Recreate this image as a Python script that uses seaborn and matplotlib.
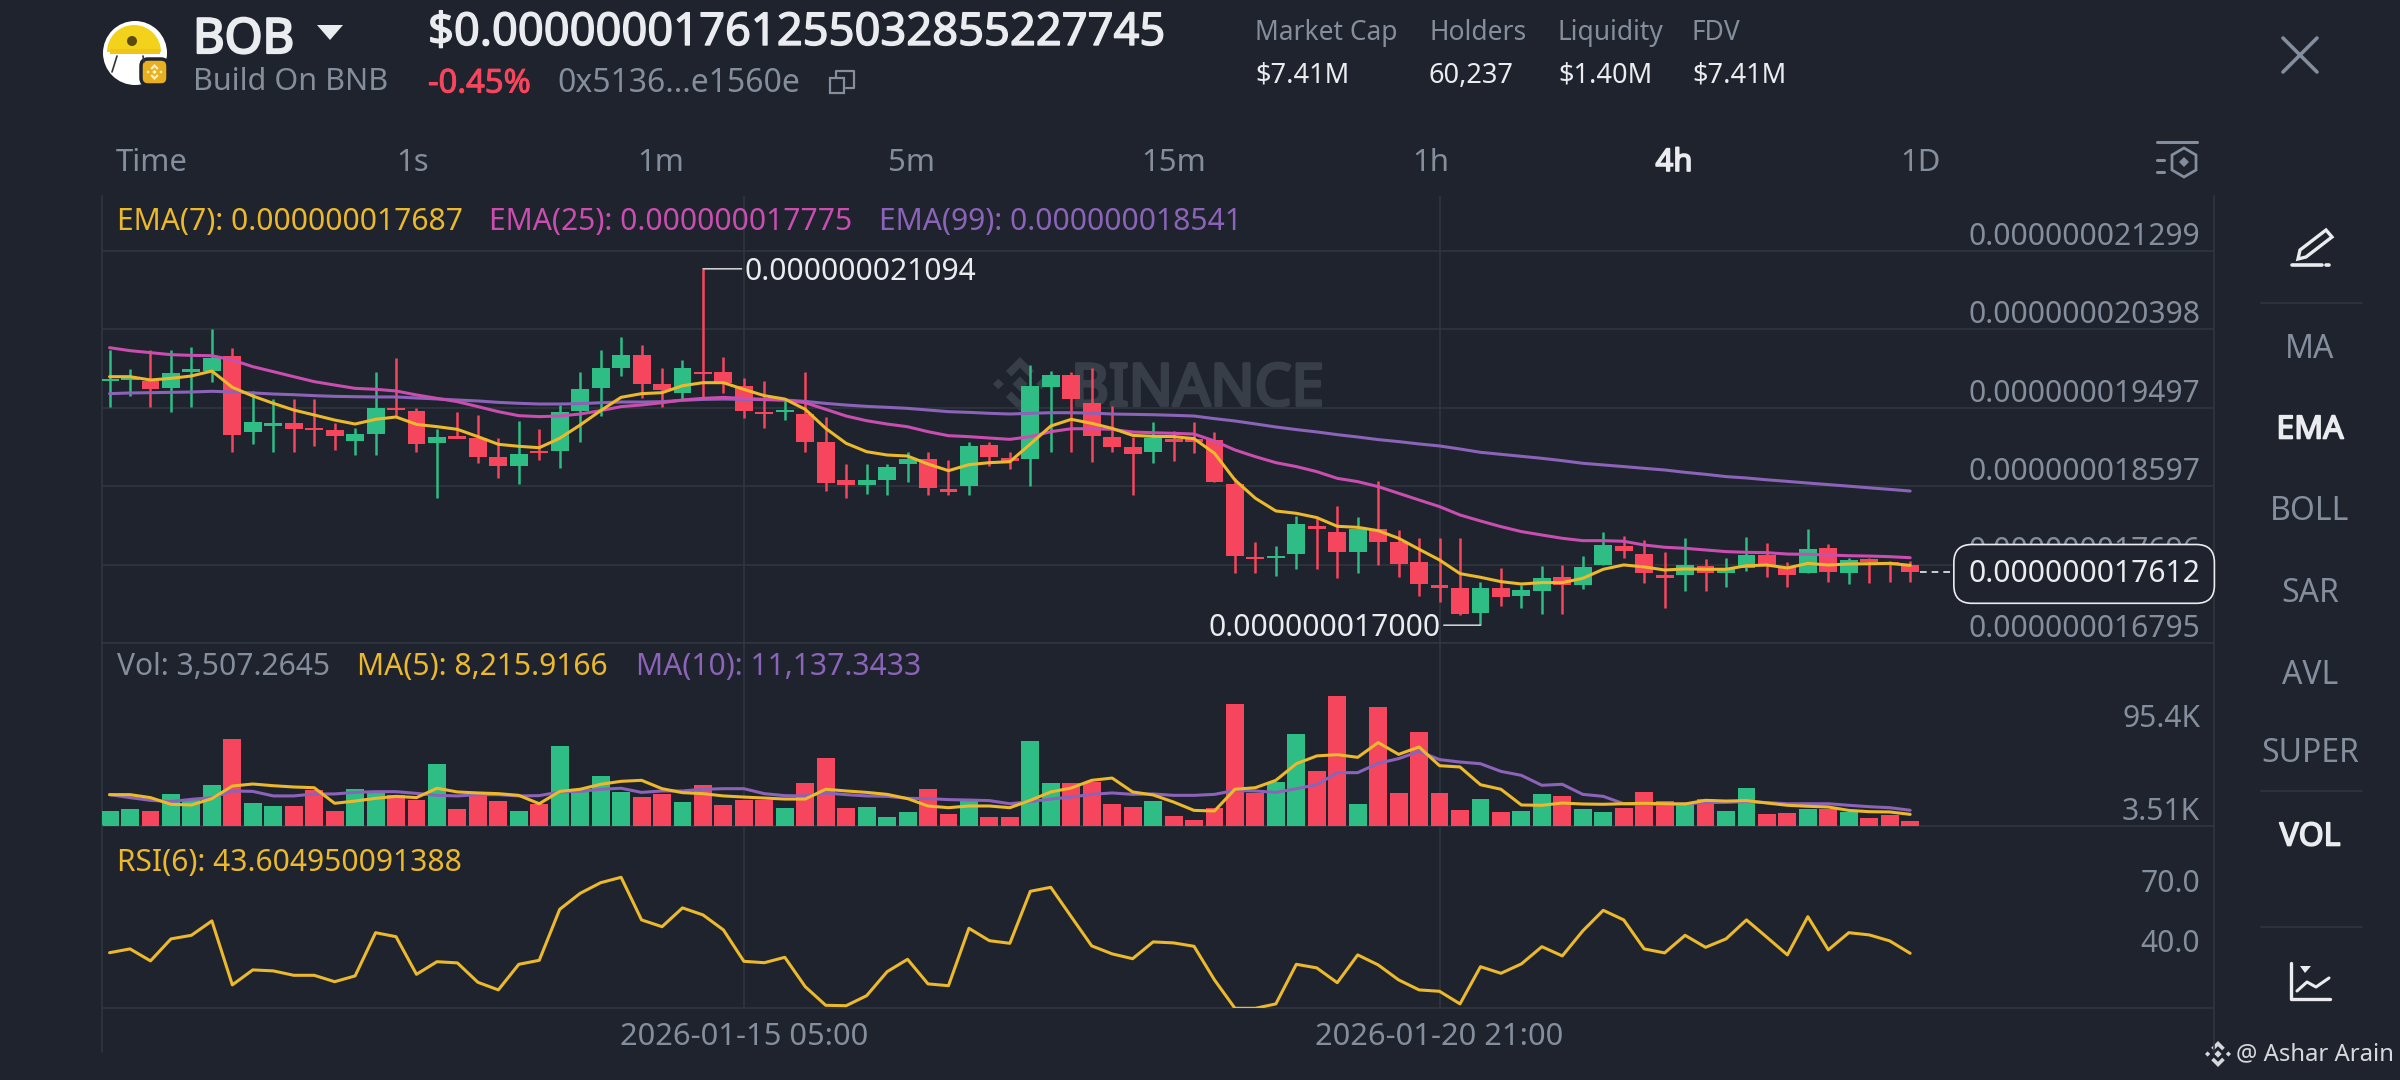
import numpy as np
import pandas as pd
import matplotlib
matplotlib.use('Agg')
import matplotlib.pyplot as plt
import matplotlib.patheffects as pe
import seaborn as sns
from matplotlib.patches import Circle, Wedge, Rectangle, FancyBboxPatch, Polygon
from matplotlib.transforms import blended_transform_factory

# prices are in units of 1e-12 (21299 = 0.000000021299)
opens = [19802,19817,19809,19721,19909,19924,20093,19216,19288,19319,19269,19242,19116,19200,19495,19465,19097,19170,19147,18936,
         18829,19005,19001,19461,19721,19951,20100,19767,19663,19912,19905,19751,19453,19445,19426,19100,18664,18610,18668,18848,
         18905,18560,18599,19070,18920,18913,19740,19874,19548,19166,19047,18985,19135,19135,19127,18619,17787,17768,17818,18144,
         18067,17845,18101,17956,17726,17466,17431,17136,17427,17335,17393,17550,17462,17692,17914,17818,17573,17581,17680,17600,
         17653,17802,17672,17603,17883,17603,17756,17722,17691]
highs = [20162,19939,20162,20162,20200,20399,20181,19694,19595,19595,19595,19319,19262,19913,20066,19499,19250,19445,19415,19154,
         19350,19250,19530,19913,20162,20315,20219,19951,20046,21094,20085,19836,19809,19587,19905,19395,18848,18848,18848,18993,
         18993,18897,19100,19100,18993,19989,19920,19912,19951,19518,19158,19330,19234,19330,19220,18687,17960,17914,18258,18247,
         18370,18247,18661,18094,17998,17998,17998,17500,17653,17462,17684,17692,17799,18067,18025,17979,17845,17998,17761,17768,
         18009,17940,17722,18101,17932,17768,17768,17737,17737]
lows = [19510,19633,19503,19453,19503,19798,18993,19078,18993,18993,19059,19013,18955,18955,19396,18993,18457,19147,18867,18695,
        18618,18898,18802,19101,19403,19863,19606,19503,19587,19587,19671,19376,19261,19357,18993,18545,18457,18503,18495,18648,
        18495,18495,18495,18832,18794,18599,18993,18993,18871,18993,18495,18867,18886,18974,18640,17596,17596,17569,17642,17646,
        17538,17596,17692,17558,17339,17263,17117,17000,17224,17201,17125,17125,17416,17692,17768,17481,17194,17393,17393,17443,
        17622,17557,17442,17595,17492,17469,17488,17492,17492]
closes = [19825,19848,19710,19901,19943,20074,19185,19334,19319,19250,19239,19173,19193,19495,19468,19082,19166,19143,18936,18825,
          18963,18978,19453,19713,19951,20100,19771,19702,19951,19886,19778,19460,19422,19472,19100,18633,18610,18664,18817,18905,
          18580,18530,19058,18932,18890,19751,19874,19594,19173,19047,18966,19146,19108,19108,18649,17795,17757,17795,18159,18105,
          17845,18101,17960,17703,17470,17431,17125,17424,17328,17401,17546,17462,17665,17921,17853,17596,17542,17688,17604,17653,
          17806,17691,17576,17871,17611,17749,17729,17703,17612]

ema7 = [19855,19855,19817,19836,19863,19920,19733,19633,19549,19472,19415,19357,19311,19365,19392,19307,19281,19250,19166,19078,
        19055,19039,19147,19300,19465,19618,19660,19671,19751,19786,19786,19709,19637,19598,19480,19261,19089,18993,18955,18943,
        18851,18775,18844,18867,18878,19081,19288,19365,19319,19261,19181,19169,19166,19143,18975,18668,18458,18312,18285,18236,
        18136,18124,18086,17998,17872,17749,17592,17550,17500,17473,17489,17489,17538,17642,17692,17669,17634,17646,17642,17642,
        17683,17691,17657,17710,17691,17703,17706,17710,17687]
ema25 = [20188,20154,20131,20108,20100,20096,20047,19970,19913,19855,19798,19759,19721,19710,19691,19645,19606,19568,19511,19453,
         19407,19396,19403,19426,19465,19511,19530,19556,19587,19606,19617,19606,19594,19587,19556,19480,19403,19349,19311,19280,
         19223,19177,19166,19150,19135,19166,19223,19257,19257,19250,19219,19211,19204,19196,19116,19013,18936,18867,18822,18764,
         18687,18649,18592,18515,18438,18362,18266,18197,18132,18075,18036,17998,17971,17971,17964,17921,17895,17883,17864,17845,
         17837,17833,17817,17814,17806,17798,17794,17787,17775]
ema99 = [19660,19668,19671,19675,19679,19687,19679,19668,19656,19648,19637,19629,19625,19622,19622,19610,19599,19587,19576,19560,
         19549,19541,19541,19545,19556,19564,19564,19568,19583,19594,19598,19594,19591,19587,19571,19548,19529,19514,19503,19491,
         19472,19453,19445,19434,19426,19434,19441,19441,19437,19426,19422,19418,19411,19403,19373,19346,19312,19277,19247,19220,
         19189,19162,19132,19109,19082,19059,19024,18986,18963,18940,18917,18890,18860,18841,18822,18802,18783,18756,18733,18707,
         18691,18670,18652,18633,18615,18597,18578,18560,18541]

# volume in thousands
volume = [10.6,11.8,10.8,22.8,18.6,28.7,61.3,16.2,14.3,14.3,25.1,10.8,25.9,24.0,21.6,18.1,43.9,12.2,21.6,17.6,
          10.6,15.7,56.2,25.1,35.0,24.0,20.4,22.6,16.7,29.1,14.6,18.6,18.6,12.7,30.3,47.9,12.5,13.2,6.1,10.1,
          25.9,8.7,17.4,6.1,6.3,59.9,30.6,30.3,31.0,15.3,13.4,17.6,6.8,4.0,12.7,85.8,23.5,31.3,65.1,38.5,
          91.7,15.5,84.1,23.5,66.3,23.5,11.0,19.0,9.6,10.3,22.8,21.2,12.0,9.9,12.7,23.7,17.6,15.7,19.0,10.6,
          26.6,8.7,9.4,12.2,12.0,9.9,5.4,7.8,3.51]
vol_ma5 = [22.1,22.1,20.0,15.3,14.8,19.3,28.2,29.6,28.4,27.5,27.0,16.0,17.6,19.5,20.9,20.0,26.6,24.0,23.3,22.8,
           21.6,15.7,24.4,25.9,29.4,31.5,32.2,26.3,23.5,22.8,21.2,20.4,19.7,19.0,19.0,25.9,24.7,23.7,22.3,19.3,
           14.1,12.9,14.1,14.1,12.9,18.1,24.0,26.8,32.2,33.8,24.0,21.9,16.9,11.0,10.6,25.9,27.0,32.2,43.9,49.4,
           50.3,48.4,58.8,50.5,55.7,42.5,41.6,29.1,25.9,14.8,14.6,16.2,15.5,15.3,15.7,16.0,15.7,15.5,18.1,17.6,
           17.9,16.2,14.6,13.9,13.4,11.0,10.1,9.9,8.2]
vol_ma10 = [22.1,20.0,18.1,17.2,18.8,20.0,24.7,24.4,21.2,21.2,22.6,22.6,23.7,24.2,24.2,23.0,21.6,21.2,22.1,22.1,
            21.2,21.4,24.0,24.4,25.9,26.6,23.7,24.7,24.7,25.9,26.3,26.3,22.8,21.4,21.2,23.3,22.1,21.2,20.9,19.5,
            19.3,18.6,18.3,17.9,15.7,17.2,19.0,20.4,22.3,23.3,22.3,22.6,21.6,21.6,22.3,25.1,24.7,23.7,26.3,29.1,
            37.6,37.6,44.2,47.5,52.6,46.8,45.1,43.9,38.5,35.7,28.7,29.4,22.3,20.9,15.7,15.3,15.3,15.7,16.5,16.7,
            17.2,16.5,15.7,15.7,15.7,14.6,13.6,12.9,11.1]

rsi = [43.9,45.8,39.8,50.8,52.6,59.8,27.8,35.3,34.8,32.6,32.6,29.4,32.3,53.9,51.9,33.1,39.4,38.8,29.1,25.3,
       38.1,40.1,65.6,73.6,78.9,81.6,60.3,56.9,66.3,62.8,55.3,39.6,38.9,41.6,26.9,17.6,17.4,22.4,34.4,40.6,
       28.3,27.4,56.1,49.9,48.6,74.6,76.6,61.9,47.3,43.3,40.9,49.3,48.8,47.1,30.3,16.1,16.1,18.3,38.1,36.3,
       28.9,42.8,37.8,30.3,25.3,24.6,18.3,36.9,33.6,38.3,46.9,42.3,54.8,65.1,60.3,45.8,43.8,52.6,46.6,50.8,
       60.3,51.6,42.8,61.9,45.3,53.9,52.8,49.8,43.6]

price_ticks = [16795, 17696, 18597, 19497, 20398, 21299]
rsi_ticks = [40.0, 70.0]
date_ticks = [31, 65]
date_labels = ['2026-01-15 05:00', '2026-01-20 21:00']
intervals = ['Time', '1s', '1m', '5m', '15m', '1h', '4h', '1D']
side_items = ['MA', 'EMA', 'BOLL', 'SAR', 'AVL', 'SUPER', 'VOL']
stat_names = ['Market Cap', 'Holders', 'Liquidity', 'FDV']
stat_values = ['$7.41M', '60,237', '$1.40M', '$7.41M']

BG = '#1e232d'
GRID = '#30363f'
GRAY = '#848e9c'
WHITE = '#eaecef'
GREEN = '#2ebd85'
RED = '#f6465d'
YELLOW = '#ecb92c'
PINK = '#c94eb0'
PURPLE = '#8b63b8'

sns.set_theme(style='dark', rc={'axes.facecolor': 'none', 'figure.facecolor': BG, 'savefig.facecolor': BG})
plt.rcParams['font.family'] = ['Noto Sans', 'DejaVu Sans']
W, H = 2400, 1080
BASE = 21.6
LINE = 2.2

df = pd.DataFrame({'idx': np.arange(len(opens)), 'open': opens, 'high': highs, 'low': lows, 'close': closes,
                   'ema7': ema7, 'ema25': ema25, 'ema99': ema99, 'volume': volume,
                   'ma5': vol_ma5, 'ma10': vol_ma10, 'rsi': rsi})
df['dir'] = np.where(df['close'] >= df['open'], 'up', 'down')
df['body'] = (df['close'] - df['open']).abs()
df['bottom'] = df[['open', 'close']].min(axis=1)
colors = {'up': GREEN, 'down': RED}

fig = plt.figure(figsize=(24, 10.8), dpi=100)


def panel(top, bottom):
    ax = fig.add_axes([102 / W, 1 - bottom / H, (2214 - 102) / W, (bottom - top) / H], zorder=1)
    for side in ['left', 'right', 'bottom', 'top']:
        ax.spines[side].set_color(GRID)
        ax.spines[side].set_linewidth(1.2)
    ax.spines['top'].set_visible(False)
    ax.tick_params(length=0, labelleft=False, labelbottom=False)
    return ax


# layers: watermark under the chart, texts and icons over it
under = fig.add_axes([0, 0, 1, 1], zorder=0)
over = fig.add_axes([0, 0, 1, 1], zorder=3)
for layer in [under, over]:
    layer.set_xlim(0, W)
    layer.set_ylim(H, 0)
    layer.axis('off')


def logo(ax, cx, cy, s, color):
    shapes = [[(0, -.28), (.28, 0), (0, .28), (-.28, 0)],
              [(-.8, -.2), (-.6, 0), (-.8, .2), (-1, 0)],
              [(.8, -.2), (1, 0), (.8, .2), (.6, 0)],
              [(0, -1), (.52, -.48), (.32, -.28), (0, -.6), (-.32, -.28), (-.52, -.48)],
              [(0, 1), (.52, .48), (.32, .28), (0, .6), (-.32, .28), (-.52, .48)]]
    for pts in shapes:
        ax.add_patch(Polygon([(cx + s * a, cy + s * b) for a, b in pts], fc=color, ec='none'))


logo(under, 1020, 384, 27, '#383e48')
under.text(1071, 390, 'BINANCE', color='#383e48', fontsize=42, va='center',
           path_effects=[pe.withStroke(linewidth=2.4, foreground='#383e48')])

# main candles
ax_main = panel(196, 643)
ax_main.vlines(df['idx'], df['low'], df['high'], colors=df['dir'].map(colors), linewidth=1.8, zorder=2)
ax_main.bar(df['idx'], df['body'], bottom=df['bottom'], width=0.875, color=df['dir'].map(colors), linewidth=0, zorder=3)
for col, c in [('ema99', PURPLE), ('ema25', PINK), ('ema7', YELLOW)]:
    sns.lineplot(data=df, x='idx', y=col, color=c, linewidth=LINE, estimator=None, legend=False, ax=ax_main, zorder=4)
ax_main.set_ylim(16795, 21931)
ax_main.set_yticks(price_ticks)
ax_main.set_xticks(date_ticks)
ax_main.grid(True, color=GRID, linewidth=1.2)
ax_main.set_axisbelow(True)
tr = blended_transform_factory(ax_main.transAxes, ax_main.transData)
for v in price_ticks:
    ax_main.annotate(f'0.0000000{v}', xy=(1, v), xycoords=tr, xytext=(-14, 14), textcoords='offset pixels',
                     ha='right', va='center', color=GRAY, fontsize=BASE)

# extreme labels and current price
high_i = df['high'].idxmax()
low_i = df['low'].idxmin()
ax_main.annotate(f"0.0000000{df['high'][high_i]}", xy=(high_i, df['high'][high_i]), xytext=(42, -3),
                 textcoords='offset pixels', ha='left', va='center', color=WHITE, fontsize=BASE, zorder=6,
                 arrowprops=dict(arrowstyle='-', color=WHITE, lw=1, shrinkA=0, shrinkB=0, relpos=(0, 0.6)))
ax_main.annotate(f"0.0000000{df['low'][low_i]}", xy=(low_i, df['low'][low_i]), xytext=(-40, -3),
                 textcoords='offset pixels', ha='right', va='center', color=WHITE, fontsize=BASE, zorder=6,
                 arrowprops=dict(arrowstyle='-', color=WHITE, lw=1, shrinkA=0, shrinkB=0, relpos=(1, 0.6)))
current = closes[-1]
ax_main.hlines(current, 88.5, 90.2, color=WHITE, linewidth=1.2, linestyle=(0, (4, 3)), zorder=5)
ax_main.annotate(f'0.0000000{current}', xy=(1, current), xycoords=tr, xytext=(-14, -2), textcoords='offset pixels',
                 ha='right', va='center', color=WHITE, fontsize=BASE, zorder=7, annotation_clip=False,
                 bbox=dict(boxstyle='round,pad=0.48,rounding_size=0.6', fc=BG, ec=WHITE, lw=1.2))

# volume
ax_vol = panel(643, 826)
sns.barplot(data=df, x='idx', y='volume', hue='dir', palette=colors, native_scale=True, width=0.875, dodge=False,
            errorbar=None, saturation=1, linewidth=0, legend=False, ax=ax_vol, zorder=3)
sns.lineplot(data=df, x='idx', y='ma10', color=PURPLE, linewidth=LINE, estimator=None, legend=False, ax=ax_vol, zorder=4)
sns.lineplot(data=df, x='idx', y='ma5', color=YELLOW, linewidth=LINE, estimator=None, legend=False, ax=ax_vol, zorder=5)
ax_vol.set_ylim(0, 129)
ax_vol.set_yticks([])
ax_vol.set_xticks(date_ticks)
ax_vol.grid(True, axis='x', color=GRID, linewidth=1.2)
ax_vol.set_axisbelow(True)

# rsi
ax_rsi = panel(826, 1008)
sns.lineplot(data=df, x='idx', y='rsi', color=YELLOW, linewidth=LINE, estimator=None, legend=False, ax=ax_rsi, zorder=4)
ax_rsi.set_ylim(16.25, 107.25)
ax_rsi.set_yticks([])
ax_rsi.set_xticks(date_ticks)
ax_rsi.grid(True, axis='x', color=GRID, linewidth=1.2)
ax_rsi.set_axisbelow(True)
ax_rsi.set_xticklabels(date_labels)
ax_rsi.tick_params(labelbottom=True, labelcolor=GRAY, labelsize=22.2, pad=10)
tr_rsi = blended_transform_factory(ax_rsi.transAxes, ax_rsi.transData)
for v in rsi_ticks:
    ax_rsi.annotate(f'{v:.1f}', xy=(1, v), xycoords=tr_rsi, xytext=(-14, 16), textcoords='offset pixels',
                    ha='right', va='center', color=GRAY, fontsize=BASE)

for ax in [ax_main, ax_vol, ax_rsi]:
    ax.set_xlim(-0.37, 102.85)
    ax.set_xlabel('')
    ax.set_ylabel('')

# frame lines under the rsi panel
over.plot([102, 102], [1008, 1052], color=GRID, lw=1.2)
over.plot([2214, 2214], [1008, 1052], color=GRID, lw=1.2)


def label(x, y, s, color=GRAY, size=BASE, ha='left', bold=0):
    effects = [pe.withStroke(linewidth=bold, foreground=color)] if bold else None
    over.text(x, y + 3, s, color=color, fontsize=size, ha=ha, va='center', path_effects=effects)


# indicator legends
label(117, 219, 'EMA(7): 0.000000017687', YELLOW)
label(489, 219, 'EMA(25): 0.000000017775', PINK)
label(879, 219, 'EMA(99): 0.000000018541', PURPLE)
label(117, 664, 'Vol: 3,507.2645')
label(357, 664, 'MA(5): 8,215.9166', YELLOW)
label(636, 664, 'MA(10): 11,137.3433', PURPLE)
label(117, 860, 'RSI(6): 43.604950091388', YELLOW)
label(2200, 716, '95.4K', ha='right')
label(2200, 809, '3.51K', ha='right')

# header
over.add_patch(Circle((135, 53), 32, fc='white', ec='none'))
over.add_patch(Wedge((134, 52), 27, 180, 360, fc='#f3d21c', ec='none'))
over.add_patch(Rectangle((110, 49), 50, 5, fc='#f0c419', ec='none'))
over.add_patch(Circle((132, 41), 5, fc='#5a4a10', ec='none'))
over.plot([117, 112], [56, 72], color='#333333', lw=1.2)
over.plot([143, 144], [56, 62], color='#333333', lw=1.2)
over.add_patch(FancyBboxPatch((141, 59), 27, 26, boxstyle='round,pad=0,rounding_size=7', fc='#e8b020', ec=BG, lw=2.5))
logo(over, 154.5, 72, 8, '#fff1c2')
label(193, 37, 'BOB', WHITE, 35, bold=1.6)
over.add_patch(Polygon([(317, 25), (343, 25), (330, 40)], fc=WHITE, ec='none'))
label(428, 30, '$0.00000001761255032855227745', WHITE, 32.6, bold=1.0)
label(193, 79, 'Build On BNB', GRAY, 22)
label(428, 81, '-0.45%', RED, 23.6, bold=0.7)
label(557, 81, '0x5136...e1560e', GRAY, 23)
over.add_patch(Rectangle((830, 78), 14, 15, fc='none', ec=GRAY, lw=1.6))
over.plot([836, 836, 854, 854, 846], [78, 71, 71, 88, 88], color=GRAY, lw=1.6)
for x, name, val in zip([1255, 1429, 1558, 1692], stat_names, stat_values):
    label(x, 30, name, GRAY, 19)
    label(x, 73, val, WHITE, 19.6)
over.plot([2283, 2317], [38, 72], color=GRAY, lw=2.6)
over.plot([2283, 2317], [72, 38], color=GRAY, lw=2.6)

for x, name in zip([152, 413, 661, 911, 1174, 1431, 1674, 1920], intervals):
    active = name == '4h'
    label(x, 160, name, WHITE if active else GRAY, 22.4, ha='center', bold=1.2 if active else 0)
over.plot([2157, 2197], [142, 142], color=GRAY, lw=2.2)
over.plot([2157, 2164], [160, 160], color=GRAY, lw=2.2)
over.plot([2157, 2164], [172, 172], color=GRAY, lw=2.2)
over.add_patch(Polygon([(2184, 148), (2196, 155), (2196, 170), (2184, 177), (2172, 170), (2172, 155)],
                       fc='none', ec=GRAY, lw=2))
over.add_patch(Polygon([(2184, 157), (2189, 162), (2184, 167), (2179, 162)], fc=GRAY, ec='none'))

# side menu
for y, name in zip([347, 427, 508, 590, 672, 751, 834], side_items):
    active = name in ('EMA', 'VOL')
    label(2310, y, name, WHITE if active else GRAY, 23, ha='center', bold=1.2 if active else 0)
for y in [303, 791, 927]:
    over.plot([2261, 2362], [y, y], color=GRID, lw=1.2)

# pencil icon
over.add_patch(Polygon([(2300, 250), (2326, 230), (2332, 237), (2306, 257), (2298, 259)], fc='none', ec=WHITE, lw=2.4))
over.plot([2292, 2322], [265, 265], color=WHITE, lw=2.6)
over.plot([2326, 2329], [265, 265], color=WHITE, lw=2.6)

# chart icon
over.plot([2291, 2291, 2330], [963, 999, 999], color=WHITE, lw=2.4)
over.plot([2297, 2307, 2316, 2329], [991, 982, 987, 978], color=WHITE, lw=2.2)
over.add_patch(Polygon([(2300, 966), (2311, 966), (2305, 973)], fc=WHITE, ec='none'))

# credit
logo(over, 2218, 1054, 13, '#d6d8dc')
label(2236, 1051, '@ Ashar Arain', '#d6d8dc', 17.2)

plt.savefig('out.png', dpi=100, facecolor=BG)
